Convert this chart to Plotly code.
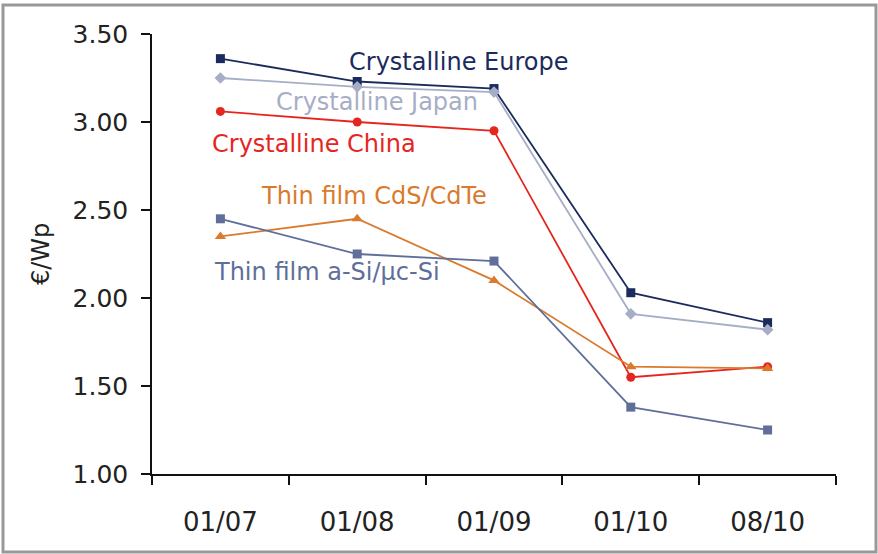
import plotly.graph_objects as go

# Module price trend, euro per watt-peak
periods = ["01/07", "01/08", "01/09", "01/10", "08/10"]
crystalline_europe = [3.36, 3.23, 3.19, 2.03, 1.86]
crystalline_japan = [3.25, 3.20, 3.17, 1.91, 1.82]
crystalline_china = [3.06, 3.00, 2.95, 1.55, 1.61]
thin_film_cdte = [2.35, 2.45, 2.10, 1.61, 1.60]
thin_film_asi = [2.45, 2.25, 2.21, 1.38, 1.25]

y_ticks = [1.0, 1.5, 2.0, 2.5, 3.0, 3.5]
y_tick_text = ["1.00", "1.50", "2.00", "2.50", "3.00", "3.50"]

W, H = 878, 554
L, R, T, B = 152, 42, 34, 80
PW, PH = W - L - R, H - T - B

FONT = "DejaVu Sans"

series = [
    ("Crystalline Europe", crystalline_europe, "#1b2b5e", "square", 9),
    ("Crystalline Japan", crystalline_japan, "#a6aec6", "diamond", 9),
    ("Crystalline China", crystalline_china, "#e5261f", "circle", 9),
    ("Thin film CdS/CdTe", thin_film_cdte, "#d97a2d", "triangle-up", 10),
    ("Thin film a-Si/\u00b5c-Si", thin_film_asi, "#5f6f99", "square", 9),
]

fig = go.Figure()
for name, vals, color, symbol, size in series:
    fig.add_trace(go.Scatter(
        x=periods, y=vals, name=name, mode="lines+markers",
        line=dict(color=color, width=1.8),
        marker=dict(symbol=symbol, size=size, color=color),
        showlegend=False,
    ))

# In-plot series labels (pixel positions of text centres)
labels = [
    ("Crystalline Europe", "#1b2b5e", 458, 62),
    ("Crystalline Japan", "#a6aec6", 377, 102),
    ("Crystalline China", "#e5261f", 314, 144),
    ("Thin film CdS/CdTe", "#d97a2d", 374, 196),
    ("Thin film a-Si/\u00b5c-Si", "#5f6f99", 327, 272),
]


def px(xp):
    return (xp - L) / PW


def py(yp):
    return (H - B - yp) / PH


annotations = []
for text, color, cx, cy in labels:
    annotations.append(dict(
        text=text, x=px(cx), y=py(cy), xref="paper", yref="paper",
        showarrow=False, xanchor="center", yanchor="middle",
        font=dict(family=FONT, size=24, color=color),
    ))

annotations.append(dict(
    text="\u20ac/Wp", x=px(41), y=py(254), xref="paper", yref="paper",
    showarrow=False, textangle=-90, xanchor="center", yanchor="middle",
    font=dict(family=FONT, size=24, color="#222222"),
))

fig.update_layout(
    width=W, height=H,
    margin=dict(l=L, r=R, t=T, b=B),
    paper_bgcolor="white", plot_bgcolor="white",
    font=dict(family=FONT, color="#222222"),
    annotations=annotations,
    shapes=[dict(
        type="rect", xref="paper", yref="paper",
        x0=px(3), x1=px(876), y0=py(552), y1=py(5),
        line=dict(color="#999999", width=3), layer="below",
    )],
    xaxis=dict(
        type="category", categoryorder="array", categoryarray=periods,
        range=[-0.5, len(periods) - 0.5],
        tickson="boundaries", ticks="outside", ticklen=9, tickwidth=1.5,
        tickcolor="#111111", showline=True, linecolor="#111111", linewidth=1.5,
        showgrid=False, zeroline=False, ticklabelstandoff=24,
        tickfont=dict(family=FONT, size=26, color="#222222"),
    ),
    yaxis=dict(
        range=[1.0, 3.5], tickvals=y_ticks, ticktext=y_tick_text,
        ticks="outside", ticklen=9, tickwidth=1.5, tickcolor="#111111",
        showline=True, linecolor="#111111", linewidth=1.5,
        showgrid=False, zeroline=False, ticklabelstandoff=8,
        tickfont=dict(family=FONT, size=25, color="#222222"),
    ),
)

fig.write_html("out.html")
